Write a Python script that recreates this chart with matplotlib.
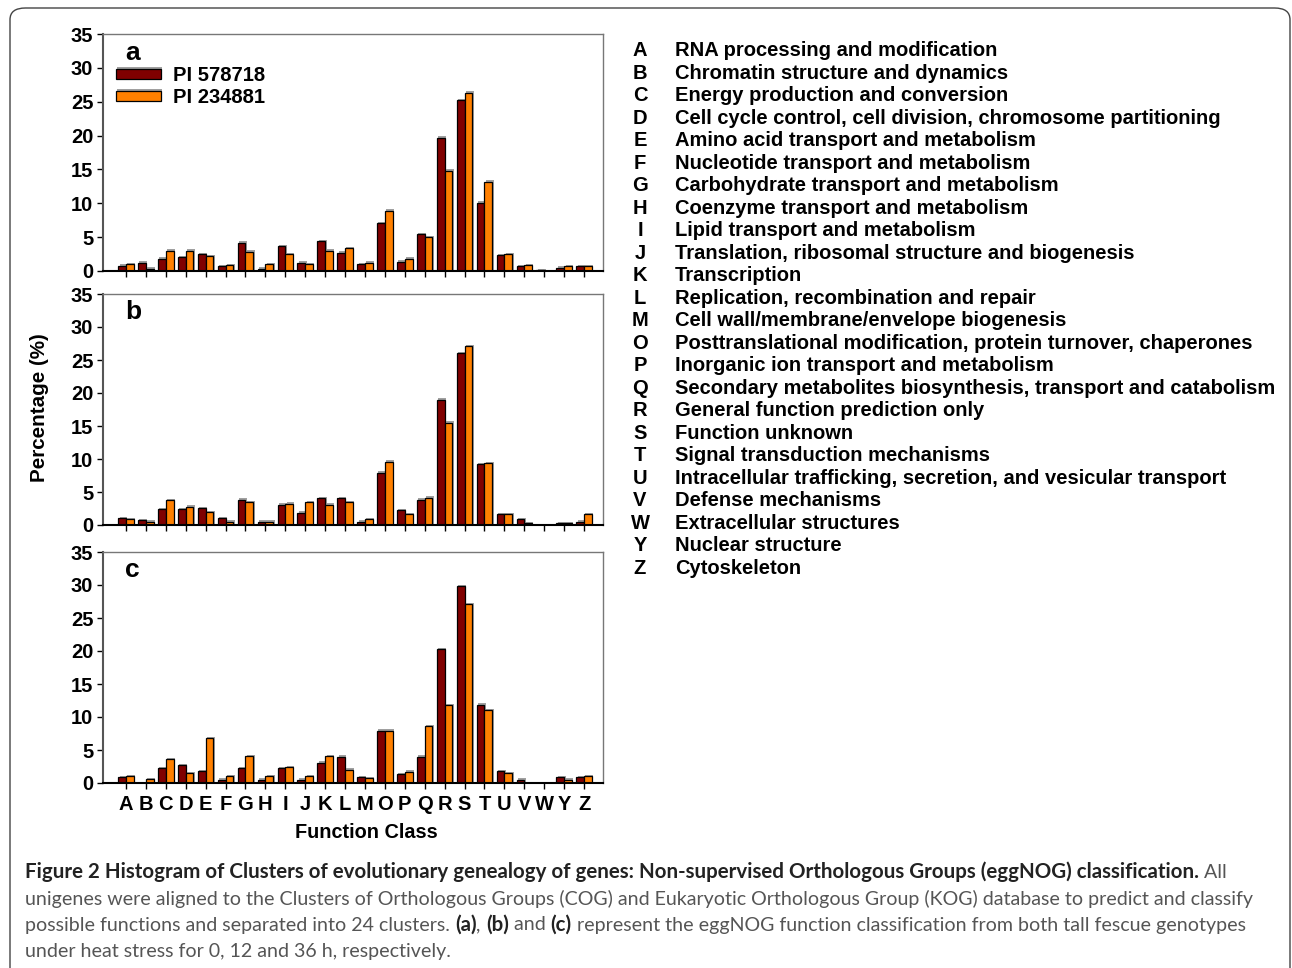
import matplotlib
matplotlib.use("Agg")
import matplotlib.pyplot as plt
import matplotlib.patheffects as pe
from matplotlib.patches import FancyBboxPatch
import numpy as np

# COG/KOG function classes
classes = ['A', 'B', 'C', 'D', 'E', 'F', 'G', 'H', 'I', 'J', 'K', 'L',
           'M', 'O', 'P', 'Q', 'R', 'S', 'T', 'U', 'V', 'W', 'Y', 'Z']
descriptions = [
    'RNA processing and modification',
    'Chromatin structure and dynamics',
    'Energy production and conversion',
    'Cell cycle control, cell division, chromosome partitioning',
    'Amino acid transport and metabolism',
    'Nucleotide transport and metabolism',
    'Carbohydrate transport and metabolism',
    'Coenzyme transport and metabolism',
    'Lipid transport and metabolism',
    'Translation, ribosomal structure and biogenesis',
    'Transcription',
    'Replication, recombination and repair',
    'Cell wall/membrane/envelope biogenesis',
    'Posttranslational modification, protein turnover, chaperones',
    'Inorganic ion transport and metabolism',
    'Secondary metabolites biosynthesis, transport and catabolism',
    'General function prediction only',
    'Function unknown',
    'Signal transduction mechanisms',
    'Intracellular trafficking, secretion, and vesicular transport',
    'Defense mechanisms',
    'Extracellular structures',
    'Nuclear structure',
    'Cytoskeleton',
]

genotypes = ['PI 578718', 'PI 234881']

# percentages, 0 h heat stress (a)
pi578718_a = [0.8, 1.2, 1.8, 2.0, 2.5, 0.7, 4.2, 0.35, 3.7, 1.2, 4.4, 2.7,
              1.0, 7.1, 1.4, 5.4, 19.7, 25.2, 10.1, 2.35, 0.7, 0.15, 0.5, 0.7]
pi234881_a = [1.0, 0.35, 3.0, 3.0, 2.2, 0.9, 2.85, 1.0, 2.5, 1.0, 3.0, 3.35,
              1.2, 8.9, 1.8, 5.0, 14.8, 26.35, 13.2, 2.45, 0.9, 0.0, 0.7, 0.7]
# 12 h (b)
pi578718_b = [1.05, 0.7, 2.35, 2.35, 2.55, 1.05, 3.85, 0.5, 3.1, 1.85, 4.05, 4.05,
              0.5, 7.9, 2.2, 3.85, 19.0, 26.0, 9.2, 1.6, 0.85, 0.0, 0.3, 0.5]
pi234881_b = [0.85, 0.5, 3.8, 2.75, 1.95, 0.5, 3.45, 0.5, 3.25, 3.45, 3.05, 3.45,
              0.85, 9.6, 1.6, 4.15, 15.5, 27.1, 9.4, 1.6, 0.3, 0.0, 0.3, 1.6]
# 36 h (c)
pi578718_c = [0.9, 0.0, 2.2, 2.7, 1.8, 0.5, 2.2, 0.5, 2.2, 0.5, 3.1, 4.0,
              0.9, 7.9, 1.35, 4.0, 20.25, 29.85, 11.85, 1.8, 0.5, 0.0, 0.9, 0.9]
pi234881_c = [1.0, 0.6, 3.6, 1.5, 6.75, 1.0, 4.1, 1.0, 2.4, 1.0, 4.1, 2.0,
              0.75, 7.9, 1.7, 8.6, 11.8, 27.05, 11.0, 1.5, 0.0, 0.0, 0.5, 1.0]

panels = [('a', pi578718_a, pi234881_a),
          ('b', pi578718_b, pi234881_b),
          ('c', pi578718_c, pi234881_c)]

RED = '#800000'
ORANGE = '#FF8000'
FONT = 'Liberation Sans'
plt.rcParams['font.family'] = FONT

W, H = 1292, 968
fig = plt.figure(figsize=(W / 100, H / 100), dpi=100)

# journal-style frame around the figure (open at the bottom)
frame = FancyBboxPatch((10 / W, -0.05), 1280 / W, 1 - 8 / H + 0.05,
                       boxstyle='round,pad=0,rounding_size=0.012',
                       transform=fig.transFigure, fill=False,
                       edgecolor='#444444', linewidth=1.0)
fig.patches.append(frame)

# axes boxes in pixels: (top, bottom)
boxes = [(34, 271), (294, 525), (552, 783)]
x = np.arange(len(classes))
bw = 0.39
shadow = [pe.withSimplePatchShadow(offset=(1, 1), shadow_rgbFace='#888888', alpha=0.8)]

for (letter, s1, s2), (top, bot) in zip(panels, boxes):
    ax = fig.add_axes([103 / W, 1 - bot / H, 500 / W, (bot - top) / H])
    b1 = ax.bar(x - bw / 2, s1, width=bw, color=RED, edgecolor='black',
                linewidth=0.9, label=genotypes[0])
    b2 = ax.bar(x + bw / 2, s2, width=bw, color=ORANGE, edgecolor='black',
                linewidth=0.9, label=genotypes[1])
    for p in list(b1) + list(b2):
        if p.get_height() > 0:
            p.set_path_effects(shadow)
    ax.set_xlim(-1.15, 23.95)
    ax.set_ylim(0, 35)
    ax.set_yticks(range(0, 36, 5))
    ax.set_xticks(x)
    ax.tick_params(axis='y', direction='out', length=4, width=1, labelsize=14.5, pad=3)
    ax.tick_params(axis='x', direction='out', length=4, width=1, labelsize=14.5, pad=5)
    for lab in ax.get_yticklabels():
        lab.set_fontweight('bold')
    if letter == 'c':
        ax.set_xticklabels(classes, fontweight='bold')
    else:
        ax.set_xticklabels([])
    ax.spines['left'].set_color('#555555')
    ax.spines['left'].set_linewidth(1.5)
    ax.spines['bottom'].set_color('black')
    ax.spines['bottom'].set_linewidth(1.5)
    ax.spines['top'].set_color('#777777')
    ax.spines['right'].set_color('#777777')
    ax.spines['top'].set_linewidth(1)
    ax.spines['right'].set_linewidth(1)
    ax.text(0.045, 0.92, letter, transform=ax.transAxes, fontsize=19,
            fontweight='bold', va='center', ha='left')
    if letter == 'a':
        ax.legend(loc='upper left', bbox_to_anchor=(0.025, 0.865), frameon=False,
                  prop={'family': FONT, 'weight': 'bold', 'size': 14.5},
                  handlelength=2.25, handleheight=0.4, handletextpad=0.6,
                  labelspacing=0.15, borderpad=0, borderaxespad=0)

fig.text(366 / W, 1 - 832 / H, 'Function Class', fontsize=14.3,
         fontweight='bold', ha='center', va='center')
fig.text(40 / W, 1 - 408 / H, 'Percentage (%)', rotation=90, fontsize=14.9,
         fontweight='bold', ha='center', va='center')

# class descriptions on the right
for i, (c, d) in enumerate(zip(classes, descriptions)):
    y = 1 - (51 + i * 22.48) / H
    fig.text(640 / W, y, c, fontsize=14.5, fontweight='bold', ha='center', va='center')
    fig.text(675 / W, y, d, fontsize=14.5, fontweight='bold', ha='left', va='center')

# caption with mixed bold / regular runs
cap_font = 'Lato'
bold_col = '#222222'
reg_col = '#555555'
caption = [
    [('Figure 2 Histogram of Clusters of evolutionary genealogy of genes: '
      'Non-supervised Orthologous Groups (eggNOG) classification.', True), (' All', False)],
    [('unigenes were aligned to the Clusters of Orthologous Groups (COG) and Eukaryotic '
      'Orthologous Group (KOG) database to predict and classify', False)],
    [('possible functions and separated into 24 clusters. ', False), ('(a)', True),
     (', ', False), ('(b)', True), (' and ', False), ('(c)', True),
     (' represent the eggNOG function classification from both tall fescue genotypes', False)],
    [('under heat stress for 0, 12 and 36 h, respectively.', False)],
]
renderer = fig.canvas.get_renderer()
for i, runs in enumerate(caption):
    xp = 25
    yp = 1 - (872 + i * 26.5) / H
    for s, bold in runs:
        t = fig.text(xp / W, yp, s, fontsize=14.8 if bold else 14.1, family=cap_font,
                     fontweight='bold' if bold else 'normal',
                     color=bold_col if bold else reg_col, ha='left', va='center')
        xp += t.get_window_extent(renderer).width

fig.savefig('out.png', dpi=100)
